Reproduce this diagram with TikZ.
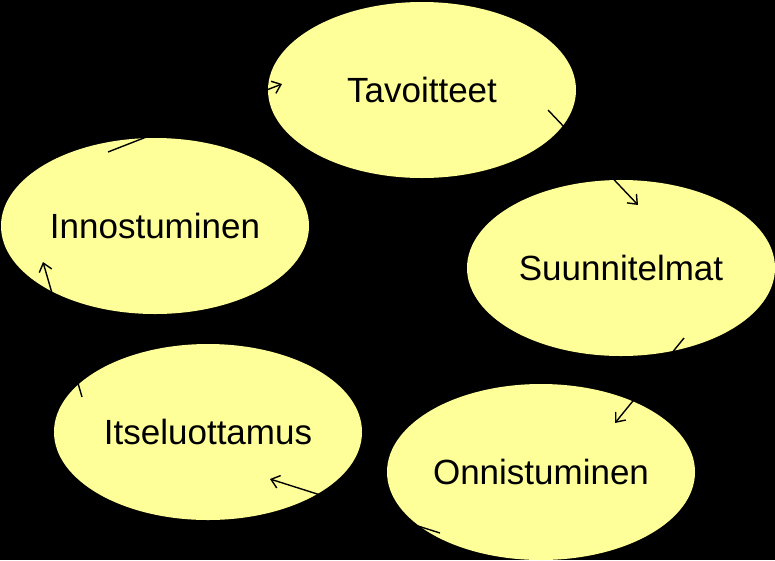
\documentclass[tikz,border=0pt]{standalone}
\usepackage{fontspec}
\setmainfont{Liberation Sans}
\usetikzlibrary{shapes.geometric,arrows.meta}
\definecolor{paleyellow}{RGB}{255,255,153}
\begin{document}
\begin{tikzpicture}[x=1pt,y=-1pt]
			\fill[black] (0,0) rectangle (775,560);

			\begin{scope}[every node/.style={ellipse,fill=paleyellow,inner sep=0pt,minimum width=308pt,minimum height=176pt,font=\fontsize{35}{42}\selectfont}]
				\node (T) at (422,90) {Tavoitteet};
				\node (S) at (621,268) {Suunnitelmat};
				\node (O) at (541,472) {Onnistuminen};
				\node (I) at (208,432) {Itseluottamus};
				\node (N) at (155,226) {Innostuminen};
			\end{scope}

			% ends of the arrows, inside the ellipses
			\coordinate (Tout) at ([shift={(126,20)}]T.center);
			\coordinate (Sin) at ([shift={(17,-63)}]S.center);
			\coordinate (Sout) at ([shift={(63,70)}]S.center);
			\coordinate (Oin) at ([shift={(74,-49)}]O.center);
			\coordinate (Oout) at ([shift={(-101,61)}]O.center);
			\coordinate (Iin) at ([shift={(62,47)}]I.center);
			\coordinate (Iout) at ([shift={(-126,-35)}]I.center);
			\coordinate (Nin) at ([shift={(-112,36)}]N.center);
			\coordinate (Nout) at ([shift={(-47,-74)}]N.center);
			\coordinate (Tin) at ([shift={(-140,-6)}]T.center);

			\begin{scope}[every edge/.style={draw=black,line width=1.4pt}]
				\path [-{Straight Barb[length=8pt,width=13pt]}] (Tout) edge (Sin);
				\path [-{Straight Barb[length=8pt,width=13pt]}] (Sout) edge (Oin);
				\path [-{Straight Barb[length=8pt,width=13pt]}] (Oout) edge (Iin);
				\path [-{Straight Barb[length=8pt,width=13pt]}] (Iout) edge (Nin);
				\path [-{Straight Barb[length=8pt,width=13pt]}] (Nout) edge (Tin);
			\end{scope}
		\end{tikzpicture}
\end{document}
